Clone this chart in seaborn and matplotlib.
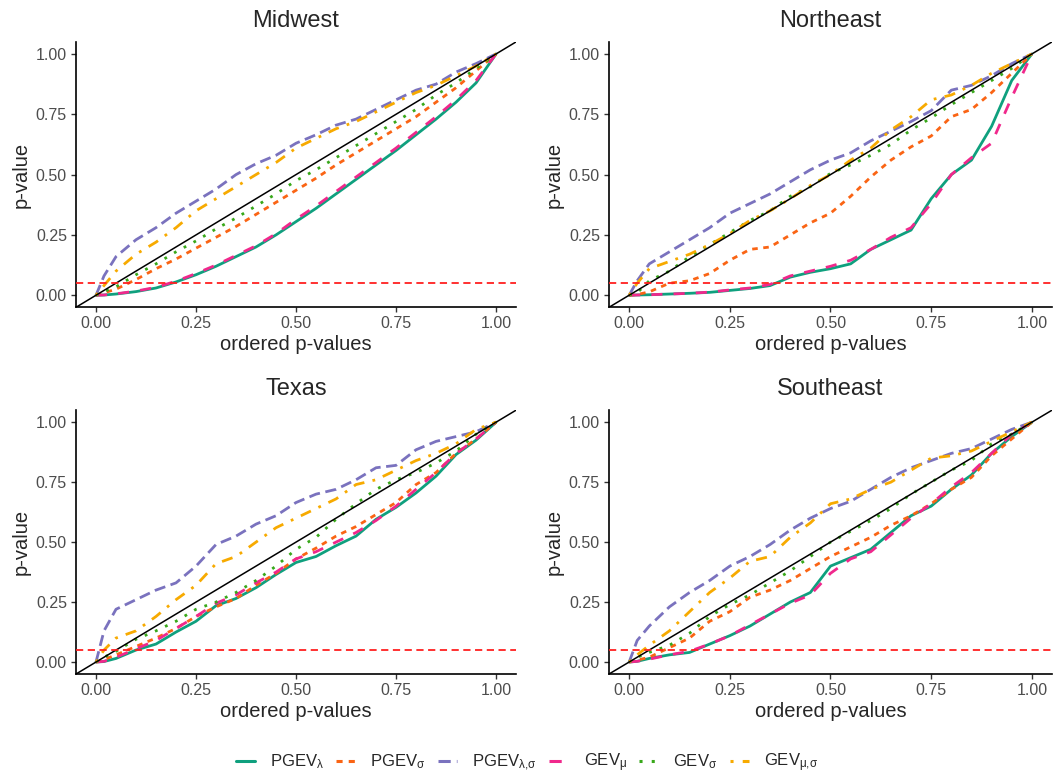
import numpy as np
import pandas as pd
import matplotlib
matplotlib.use("Agg")
import matplotlib.pyplot as plt
from matplotlib.lines import Line2D
import seaborn as sns

# Ordered p-value positions shared by every curve
ordered_p = [0.00, 0.02, 0.05, 0.10, 0.15, 0.20, 0.25, 0.30, 0.35, 0.40, 0.45,
             0.50, 0.55, 0.60, 0.65, 0.70, 0.75, 0.80, 0.85, 0.90, 0.95, 1.00]

models = ["PGEV_l", "PGEV_s", "PGEV_ls", "GEV_m", "GEV_s", "GEV_ms"]
model_labels = [r"PGEV$_\lambda$", r"PGEV$_\sigma$", r"PGEV$_{\lambda{,}\sigma}$",
                r"GEV$_\mu$", r"GEV$_\sigma$", r"GEV$_{\mu{,}\sigma}$"]
regions = ["Midwest", "Northeast", "Texas", "Southeast"]

midwest = {
    "PGEV_l":  [0, 0.001, 0.005, 0.015, 0.03, 0.055, 0.085, 0.12, 0.16, 0.20, 0.25, 0.305, 0.36, 0.42, 0.48, 0.54, 0.60, 0.665, 0.73, 0.80, 0.88, 1.0],
    "PGEV_s":  [0, 0.01, 0.025, 0.065, 0.11, 0.15, 0.195, 0.24, 0.285, 0.335, 0.385, 0.435, 0.485, 0.54, 0.59, 0.64, 0.69, 0.74, 0.80, 0.86, 0.93, 1.0],
    "PGEV_ls": [0, 0.08, 0.16, 0.23, 0.28, 0.34, 0.39, 0.44, 0.50, 0.545, 0.58, 0.63, 0.665, 0.705, 0.73, 0.77, 0.81, 0.85, 0.875, 0.925, 0.96, 1.0],
    "GEV_m":   [0, 0.001, 0.006, 0.017, 0.033, 0.058, 0.09, 0.125, 0.165, 0.205, 0.255, 0.315, 0.37, 0.43, 0.49, 0.55, 0.61, 0.675, 0.74, 0.81, 0.89, 1.0],
    "GEV_s":   [0, 0.015, 0.035, 0.085, 0.13, 0.18, 0.225, 0.275, 0.32, 0.37, 0.42, 0.475, 0.52, 0.57, 0.62, 0.67, 0.72, 0.77, 0.83, 0.88, 0.94, 1.0],
    "GEV_ms":  [0, 0.04, 0.10, 0.17, 0.22, 0.28, 0.35, 0.40, 0.45, 0.50, 0.55, 0.61, 0.65, 0.69, 0.72, 0.76, 0.80, 0.84, 0.87, 0.91, 0.95, 1.0],
}
northeast = {
    "PGEV_l":  [0, 0.001, 0.002, 0.005, 0.008, 0.012, 0.02, 0.028, 0.04, 0.075, 0.095, 0.11, 0.13, 0.19, 0.23, 0.27, 0.40, 0.50, 0.56, 0.70, 0.89, 1.0],
    "PGEV_s":  [0, 0.003, 0.014, 0.05, 0.06, 0.09, 0.145, 0.19, 0.20, 0.25, 0.30, 0.34, 0.41, 0.49, 0.56, 0.615, 0.66, 0.74, 0.77, 0.84, 0.92, 1.0],
    "PGEV_ls": [0, 0.06, 0.13, 0.18, 0.23, 0.28, 0.34, 0.38, 0.42, 0.47, 0.52, 0.56, 0.59, 0.64, 0.68, 0.72, 0.765, 0.85, 0.87, 0.91, 0.96, 1.0],
    "GEV_m":   [0, 0.001, 0.002, 0.005, 0.008, 0.013, 0.022, 0.03, 0.045, 0.08, 0.10, 0.12, 0.145, 0.19, 0.24, 0.28, 0.38, 0.50, 0.57, 0.63, 0.82, 1.0],
    "GEV_s":   [0, 0.01, 0.06, 0.10, 0.16, 0.21, 0.26, 0.31, 0.35, 0.41, 0.45, 0.505, 0.54, 0.58, 0.625, 0.685, 0.735, 0.79, 0.84, 0.89, 0.94, 1.0],
    "GEV_ms":  [0, 0.05, 0.11, 0.14, 0.17, 0.21, 0.255, 0.31, 0.35, 0.40, 0.455, 0.50, 0.56, 0.61, 0.685, 0.74, 0.81, 0.83, 0.87, 0.92, 0.96, 1.0],
}
texas = {
    "PGEV_l":  [0, 0.002, 0.015, 0.05, 0.075, 0.125, 0.17, 0.235, 0.265, 0.31, 0.365, 0.415, 0.44, 0.485, 0.525, 0.595, 0.645, 0.705, 0.775, 0.865, 0.925, 1.0],
    "PGEV_s":  [0, 0.01, 0.03, 0.065, 0.10, 0.14, 0.19, 0.23, 0.265, 0.32, 0.37, 0.43, 0.475, 0.525, 0.565, 0.615, 0.665, 0.74, 0.79, 0.87, 0.93, 1.0],
    "PGEV_ls": [0, 0.13, 0.22, 0.26, 0.30, 0.33, 0.40, 0.49, 0.525, 0.575, 0.61, 0.665, 0.70, 0.72, 0.76, 0.81, 0.82, 0.885, 0.92, 0.94, 0.96, 1.0],
    "GEV_m":   [0, 0.003, 0.02, 0.055, 0.09, 0.14, 0.19, 0.245, 0.28, 0.33, 0.375, 0.43, 0.46, 0.50, 0.54, 0.59, 0.65, 0.72, 0.79, 0.87, 0.93, 1.0],
    "GEV_s":   [0, 0.02, 0.045, 0.095, 0.13, 0.17, 0.22, 0.25, 0.29, 0.34, 0.40, 0.47, 0.52, 0.595, 0.66, 0.72, 0.76, 0.79, 0.83, 0.88, 0.95, 1.0],
    "GEV_ms":  [0, 0.05, 0.10, 0.13, 0.19, 0.26, 0.32, 0.41, 0.44, 0.50, 0.56, 0.60, 0.64, 0.68, 0.74, 0.76, 0.80, 0.84, 0.87, 0.91, 0.97, 1.0],
}
southeast = {
    "PGEV_l":  [0, 0.003, 0.015, 0.03, 0.04, 0.075, 0.11, 0.15, 0.20, 0.25, 0.29, 0.40, 0.435, 0.47, 0.54, 0.61, 0.65, 0.72, 0.78, 0.87, 0.94, 1.0],
    "PGEV_s":  [0, 0.008, 0.02, 0.06, 0.10, 0.17, 0.21, 0.27, 0.30, 0.34, 0.39, 0.44, 0.48, 0.52, 0.57, 0.61, 0.66, 0.72, 0.77, 0.86, 0.93, 1.0],
    "PGEV_ls": [0, 0.09, 0.15, 0.23, 0.29, 0.34, 0.40, 0.44, 0.49, 0.55, 0.60, 0.64, 0.67, 0.72, 0.77, 0.81, 0.84, 0.87, 0.89, 0.93, 0.97, 1.0],
    "GEV_m":   [0, 0.003, 0.012, 0.03, 0.045, 0.075, 0.11, 0.155, 0.20, 0.245, 0.28, 0.37, 0.43, 0.46, 0.53, 0.60, 0.66, 0.73, 0.79, 0.87, 0.95, 1.0],
    "GEV_s":   [0, 0.02, 0.04, 0.07, 0.12, 0.19, 0.24, 0.28, 0.33, 0.38, 0.44, 0.50, 0.545, 0.59, 0.64, 0.70, 0.75, 0.80, 0.84, 0.91, 0.95, 1.0],
    "GEV_ms":  [0, 0.03, 0.07, 0.13, 0.21, 0.29, 0.35, 0.42, 0.44, 0.52, 0.58, 0.66, 0.68, 0.72, 0.75, 0.80, 0.85, 0.86, 0.88, 0.92, 0.96, 1.0],
}
region_data = {"Midwest": midwest, "Northeast": northeast,
               "Texas": texas, "Southeast": southeast}

significance = 0.05
ticks = [0.00, 0.25, 0.50, 0.75, 1.00]

# Series colours and ggplot-style dash sequences
palette = dict(zip(models, ["#0FA07E", "#FA6414", "#7A72BE",
                            "#F0288C", "#38A81A", "#F7AA00"]))
dashes = dict(zip(models, ["", (2, 2), (4, 2), (4, 4), (1, 3), (1, 3, 4, 3)]))

sns.set_theme(style="ticks")
plt.rcParams["font.family"] = ["Liberation Sans", "DejaVu Sans"]
plt.rcParams["mathtext.fontset"] = "custom"
plt.rcParams["mathtext.rm"] = "Liberation Sans"
plt.rcParams["mathtext.it"] = "Liberation Sans"

fig = plt.figure(figsize=(10.54, 7.76), dpi=100)
positions = {
    "Midwest":   [0.0721, 0.604, 0.4175, 0.342],
    "Northeast": [0.5778, 0.604, 0.4203, 0.342],
    "Texas":     [0.0721, 0.1314, 0.4175, 0.340],
    "Southeast": [0.5778, 0.1314, 0.4203, 0.340],
}

for region in regions:
    ax = fig.add_axes(positions[region])
    rows = []
    for m in models:
        for x, y in zip(ordered_p, region_data[region][m]):
            rows.append({"ordered": x, "p": y, "model": m})
    df = pd.DataFrame(rows)
    sns.lineplot(data=df, x="ordered", y="p", hue="model", style="model",
                 hue_order=models, style_order=models, palette=palette,
                 dashes=dashes, estimator=None, sort=False, linewidth=2.0,
                 legend=False, ax=ax)
    ax.axline((0, 0), slope=1, color="black", linewidth=1.1, zorder=5)
    ax.axhline(significance, color="#FF2020", linewidth=1.3,
               dashes=(4, 2.5), zorder=5)
    ax.set_xlim(-0.05, 1.05)
    ax.set_ylim(-0.05, 1.05)
    ax.set_xticks(ticks)
    ax.set_yticks(ticks)
    ax.set_xticklabels([f"{t:.2f}" for t in ticks])
    ax.set_yticklabels([f"{t:.2f}" for t in ticks])
    ax.tick_params(labelsize=11.5, labelcolor="#4D4D4D", length=3.5,
                   width=1.0, color="#333333", pad=3)
    for side in ["left", "bottom"]:
        ax.spines[side].set_linewidth(1.2)
        ax.spines[side].set_color("black")
    sns.despine(ax=ax)
    ax.set_xlabel("ordered p-values", fontsize=14.5, labelpad=3)
    ax.set_ylabel("p-value", fontsize=14.5, labelpad=4)
    ax.set_title(region, fontsize=17, pad=11)

handles = []
for m in models:
    h = Line2D([0], [0], color=palette[m], linewidth=2.2)
    if dashes[m]:
        h.set_dashes(dashes[m])
    handles.append(h)
fig.legend(handles, model_labels, loc="center", bbox_to_anchor=(0.5, 0.017),
           ncol=6, frameon=False, fontsize=12, handlelength=1.15,
           columnspacing=0.75, handletextpad=0.9)

fig.savefig("out.png", dpi=100)
